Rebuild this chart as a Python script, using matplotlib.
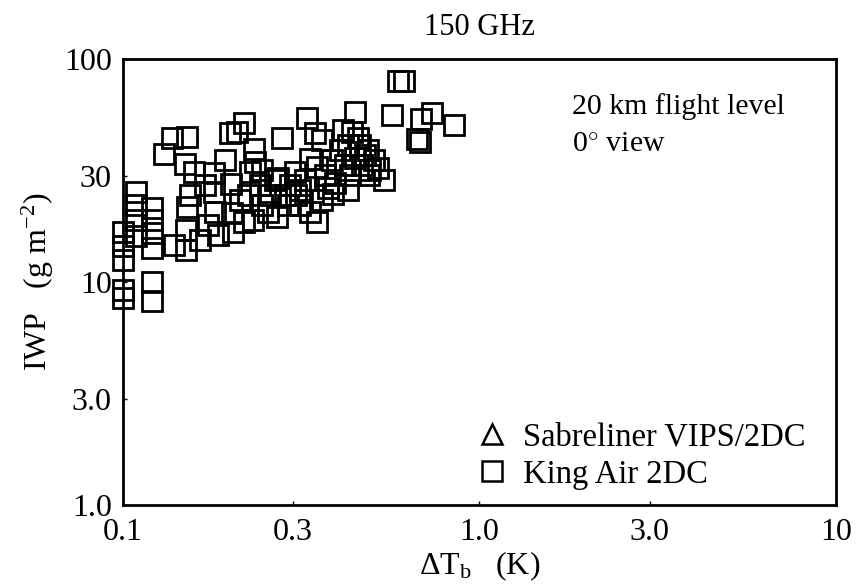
import matplotlib
matplotlib.use("Agg")
import matplotlib.pyplot as plt
from matplotlib.lines import Line2D

plt.rcParams["font.family"] = ["Liberation Serif", "DejaVu Serif"]
plt.rcParams["mathtext.fontset"] = "custom"
plt.rcParams["mathtext.rm"] = "Liberation Serif"
plt.rcParams["mathtext.it"] = "Liberation Serif"

# King Air 2DC points (delta Tb in K, IWP in g m-2)
king_air_dtb = [
    0.100, 0.100, 0.100, 0.100, 0.100,
    0.109, 0.109, 0.109, 0.109,
    0.121, 0.121, 0.121, 0.121, 0.121, 0.121,
    0.130, 0.137, 0.151, 0.149, 0.158, 0.154, 0.151, 0.150, 0.150, 0.139,
    0.180, 0.180, 0.181, 0.185, 0.173, 0.164,
    0.201, 0.202, 0.204, 0.213, 0.219,
    0.200, 0.209, 0.218, 0.233, 0.235,
    0.224, 0.232, 0.242, 0.245, 0.255, 0.259, 0.267,
    0.270, 0.272, 0.279, 0.285, 0.294, 0.304, 0.314,
    0.328, 0.335, 0.350, 0.335, 0.350, 0.346, 0.362,
    0.324, 0.369, 0.376, 0.386, 0.393, 0.388, 0.406,
    0.414, 0.419, 0.428, 0.439, 0.448, 0.434, 0.448,
    0.462, 0.468, 0.477, 0.487, 0.493, 0.490, 0.506, 0.519,
    0.540, 0.456,
    0.568, 0.591, 0.614, 0.668, 0.681, 0.685, 0.736, 0.848,
    0.290, 0.306, 0.227, 0.428,
    0.314, 0.362, 0.245, 0.193, 0.170,
]
king_air_iwp = [
    16.7, 14.5, 12.6, 9.2, 8.5,
    25.3, 22.2, 19.0, 16.1,
    21.5, 19.0, 16.6, 14.2, 10.0, 8.2,
    37.5, 44.2, 44.7, 33.8, 31.2, 24.6, 21.7, 17.1, 13.9, 14.6,
    30.8, 25.3, 20.6, 16.2, 18.0, 15.4,
    27.5, 20.4, 16.7, 23.3, 18.6,
    46.6, 47.1, 51.6, 39.5, 34.5,
    24.6, 19.0, 27.3, 22.2, 20.6, 24.6, 28.7,
    19.6, 29.3, 44.2, 24.6, 27.3, 31.2, 25.9,
    54.4, 35.6, 32.8, 20.6, 18.6, 46.6, 43.4,
    28.7, 30.2, 26.4, 35.3, 27.8, 24.8, 39.1,
    48.0, 33.5, 41.2, 47.1, 57.8, 30.2, 35.9,
    41.2, 33.5, 37.1, 39.1, 31.8, 30.2, 35.3, 32.5,
    28.7, 44.2,
    56.1, 79.7, 79.7, 43.8, 42.5, 53.8, 57.2, 50.6,
    22.2, 24.6, 31.2, 25.9,
    22.2, 23.3, 31.8, 35.3, 27.3,
]

# Sabreliner has no points in this panel (legend only)
sabreliner_dtb = []
sabreliner_iwp = []

x_ticks = [0.1, 0.3, 1.0, 3.0, 10]
x_tick_labels = ["0.1", "0.3", "1.0", "3.0", "10"]
y_ticks = [1.0, 3.0, 10, 30, 100]
y_tick_labels = ["1.0", "3.0", "10", "30", "100"]

fig = plt.figure(figsize=(8.57, 5.88), dpi=100)
ax = fig.add_axes([0.1435, 0.141, 0.832, 0.7585])

ax.plot(king_air_dtb, king_air_iwp, ls="none", marker="s", ms=15,
        mfc="none", mec="black", mew=2.0, clip_on=False)
ax.plot(sabreliner_dtb, sabreliner_iwp, ls="none", marker="^", ms=12,
        mfc="none", mec="black", mew=1.6)

ax.set_xscale("log")
ax.set_yscale("log")
ax.set_xlim(0.1, 10)
ax.set_ylim(1.0, 100)
ax.set_xticks(x_ticks, x_tick_labels)
ax.set_yticks(y_ticks, y_tick_labels)
ax.minorticks_off()
ax.tick_params(which="major", direction="in", length=3, width=1.0,
               labelsize=23)
ax.tick_params(axis="x", pad=9)
ax.tick_params(axis="y", pad=8)
for s in ax.spines.values():
    s.set_linewidth(2.0)

ax.set_title("150 GHz", fontsize=22, pad=17)
ax.set_xlabel(r"$\Delta$T$_{\rm b}$   (K)", fontsize=23, labelpad=2)
ax.set_ylabel(r"IWP   (g m$^{-2}$)", fontsize=23, labelpad=6)

ax.text(0.63, 0.925, "20 km flight level\n0$^{\\circ}$ view", transform=ax.transAxes,
        fontsize=21.5, va="top", ha="left", linespacing=1.6)

handles = [
    Line2D([], [], ls="none", marker="^", ms=14, mfc="none", mec="black", mew=1.8),
    Line2D([], [], ls="none", marker="s", ms=14, mfc="none", mec="black", mew=1.8),
]
ax.legend(handles, ["Sabreliner VIPS/2DC", "King Air 2DC"], loc="lower right",
          bbox_to_anchor=(0.975, 0.005), frameon=False, fontsize=23.5,
          handletextpad=0.45, labelspacing=0.2, borderaxespad=0.0,
          handlelength=1.0)

fig.savefig("out.png", dpi=100)
